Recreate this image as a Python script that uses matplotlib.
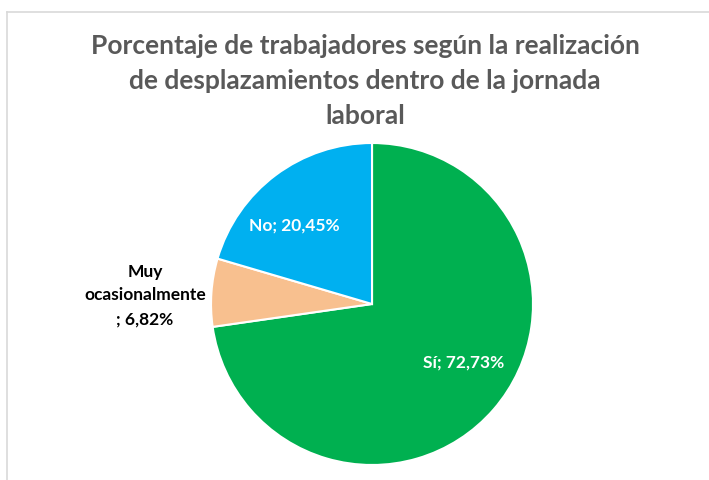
import matplotlib
matplotlib.use("Agg")
import matplotlib.pyplot as plt
import numpy as np
from matplotlib.lines import Line2D

categories = ["Sí", "Muy ocasionalmente", "No"]
values = [72.73, 6.82, 20.45]
label_texts = ["Sí; 72,73%", "Muy\nocasionalmente\n; 6,82%", "No; 20,45%"]
colors = ["#00B050", "#F8C08F", "#00B0F0"]
label_colors = ["white", "black", "white"]
# label placement (angle offset deg from wedge mid, radius)
label_pos = [(8.7, 0.675), (None, None), (7.6, 0.69)]

plt.rcParams['font.family'] = ['Lato', 'DejaVu Sans']

fig = plt.figure(figsize=(7.09, 4.81), dpi=100)
fig.patch.set_facecolor("white")

# chart frame (light gray border, top & left visible)
W, H = 709, 481
fx0 = 7.5 / W
fy0 = 1 - 12.5 / H
fig.add_artist(Line2D([fx0, 1.0], [fy0, fy0], transform=fig.transFigure, color="#D9D9D9", lw=1.2))
fig.add_artist(Line2D([fx0, fx0], [0, fy0], transform=fig.transFigure, color="#D9D9D9", lw=1.2))

ax = fig.add_axes([0.2976, 0.0312, 0.4542, 0.6694])
wedges, _ = ax.pie(values, colors=colors, startangle=90, counterclock=False,
                   wedgeprops=dict(edgecolor="white", linewidth=1.5))
ax.set_xlim(-1, 1)
ax.set_ylim(-1, 1)
ax.set_aspect("equal")
ax.axis("off")

for i, w in enumerate(wedges):
    mid = np.deg2rad((w.theta1 + w.theta2) / 2)
    if i == 1:
        x, y = -1.41, 0.06
        ax.text(x, y, label_texts[i], ha="center", va="center", fontsize=12.5,
                fontweight="bold", color=label_colors[i], linespacing=1.6, clip_on=False)
    else:
        off, r = label_pos[i]
        a = mid + np.deg2rad(off)
        ax.text(r * np.cos(a), r * np.sin(a), label_texts[i], ha="center", va="center",
                fontsize=12.5, fontweight="bold", color=label_colors[i], clip_on=False)

fig.text(365 / W, 1 - 34.5 / H,
         "Porcentaje de trabajadores según la realización\nde desplazamientos dentro de la jornada\nlaboral",
         ha="center", va="top", fontsize=19, fontweight="bold", color="#595959", linespacing=1.54)

fig.savefig("out.png", dpi=100, facecolor="white")
